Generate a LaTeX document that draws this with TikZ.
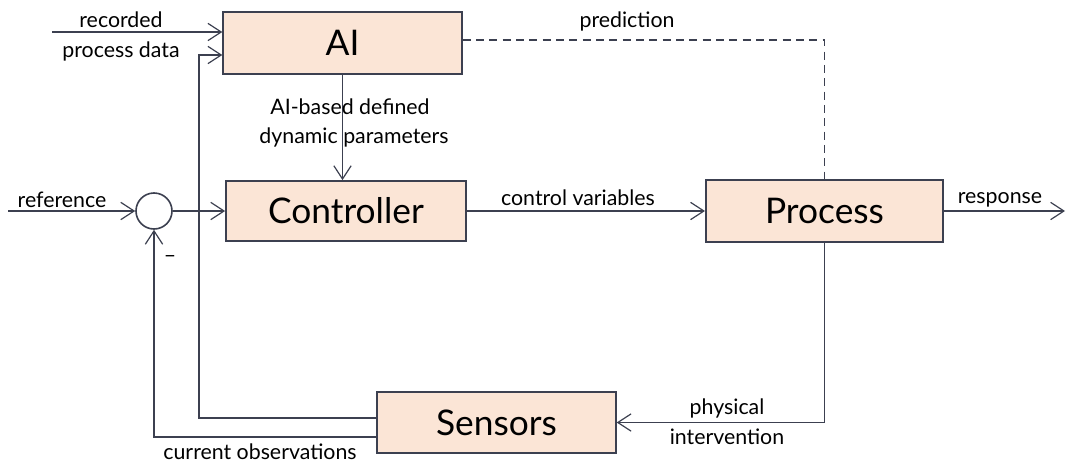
\documentclass[tikz,border=0pt]{standalone}
\usepackage{fontspec}
\setmainfont{Lato}
\usetikzlibrary{arrows.meta}
\definecolor{boxfill}{HTML}{FBE5D6}
\definecolor{linec}{HTML}{3C4050}
\begin{document}
\begin{tikzpicture}[x=0.75pt,y=-0.75pt,
  box/.style={draw=linec, line width=1.3pt, fill=boxfill, inner sep=0pt,
    font=\fontsize{26.5}{30}\selectfont},
  conn/.style={draw=linec, line width=0.9pt},
  arr/.style={conn, -{Straight Barb[length=10pt,width=13pt]}},
  lbl/.style={font=\fontsize{16}{19}\selectfont, inner sep=0pt, text=black}]
\useasboundingbox (0,0) rectangle (1067,464);
\node[box, minimum width=179pt, minimum height=46.5pt] (ai) at (342.5,43) {AI};
\node[box, minimum width=180pt, minimum height=45pt] (ctrl) at (346,211) {Controller};
\node[box, minimum width=178pt, minimum height=47pt] (proc) at (824.5,211) {Process};
\node[box, minimum width=179pt, minimum height=46pt] (sens) at (496.5,422.5) {Sensors};
\node[circle, draw=linec, line width=1.2pt, minimum size=27pt, inner sep=0pt] (sum) at (154,211) {};
\coordinate (refin) at (8,211);
\coordinate (rec) at (52,32);
\coordinate (respout) at (1065,211);

\draw[arr] (refin) -- (sum.west);
\node[lbl] at (62,200) {reference};
\draw[arr] (sum.east) -- (ctrl.west);
\draw[arr] (rec) -- (ai.west |- rec);
\node[lbl] at (121,20) {recorded};
\node[lbl] at (121,51) {process data};
\draw[arr] (sens.west |- 0,418) -| (199,55) -- (ai.west |- 0,55);
\draw[arr] (sens.west |- 0,437) -| (sum.south);
\node[lbl] at (260,452) {current observations};
\node[lbl] at (170,259) {–};
\draw[arr] (ai.south) -- (ai.south |- ctrl.north);
\node[lbl] at (350,107) {AI-based defined};
\node[lbl] at (354,137) {dynamic parameters};
\draw[arr] (ctrl.east) -- (proc.west);
\node[lbl] at (578,198) {control variables};
\draw[arr] (proc.east) -- (respout);
\node[lbl] at (1000,200) {response};
\draw[conn, dash pattern=on 6pt off 4pt] (ai.east |- 0,40) -| (proc.north);
\node[lbl] at (627,21) {prediction};
\draw[arr] (proc.south) |- (sens.east);
\node[lbl] at (727,408) {physical};
\node[lbl] at (727,437) {intervention};
\end{tikzpicture}
\end{document}
